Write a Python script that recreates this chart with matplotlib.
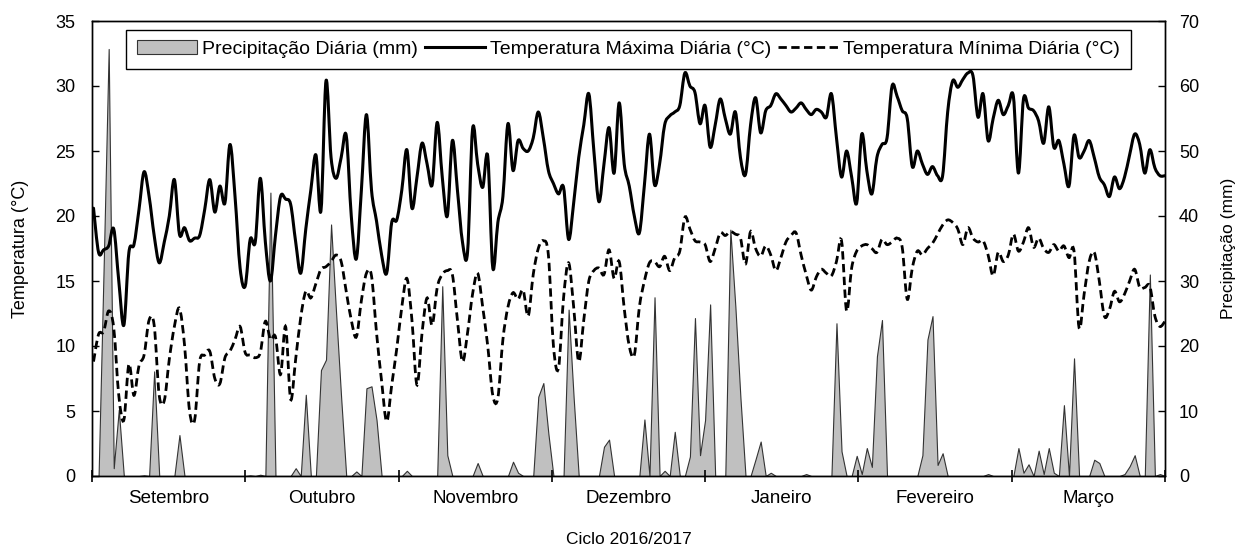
import numpy as np
import matplotlib.pyplot as plt
from matplotlib.patches import Patch, PathPatch
from matplotlib.lines import Line2D
from matplotlib.path import Path

plt.rcParams['font.family'] = ['Liberation Sans', 'DejaVu Sans']

# daily values, 1 Sep 2016 -> end of Mar 2017
months = ['Setembro', 'Outubro', 'Novembro', 'Dezembro', 'Janeiro', 'Fevereiro', 'Março']

temp_max = [
    20.6, 17.2, 17.4, 17.7, 19.0, 15.0, 11.6, 17.2, 17.8, 20.5,
    23.4, 21.5, 18.5, 16.4, 18.0, 20.0, 22.8, 18.6, 19.1, 18.1,
    18.3, 18.5, 20.5, 22.8, 20.3, 22.3, 21.0, 25.5, 21.5, 16.0,
    14.6, 18.2, 18.0, 22.9, 18.0, 15.0, 18.5, 21.5, 21.3, 20.9,
    18.0, 15.6, 19.0, 22.0, 24.7, 20.4, 30.4, 24.5, 22.9, 24.5,
    26.2, 20.0, 16.7, 22.0, 27.8, 22.0, 19.6, 17.0, 15.6, 19.5,
    19.7, 22.0, 25.1, 20.6, 23.0, 25.6, 24.0, 22.4, 27.2, 23.0,
    20.0, 25.8, 22.0, 18.0, 17.2, 26.7, 24.0, 22.2, 24.6, 16.0,
    19.5, 21.5, 27.1, 23.5, 25.8, 25.2, 25.0, 26.0, 28.0, 26.0,
    23.5, 22.5, 21.7, 22.2, 18.2, 21.0, 24.5, 27.0, 29.4, 25.0,
    21.1, 24.0, 26.8, 23.3, 28.7, 24.0, 22.3, 20.0, 18.7, 22.4,
    26.3, 22.4, 24.0, 27.0, 27.7, 28.0, 28.5, 31.0, 30.0, 29.5,
    27.1, 28.5, 25.3, 27.0, 29.0, 27.5, 26.3, 28.0, 24.5, 23.2,
    27.0, 29.1, 26.4, 28.1, 28.5, 29.4, 29.0, 28.5, 28.0, 28.3,
    28.7, 28.2, 27.8, 28.2, 28.0, 27.6, 29.4, 26.0, 23.0, 25.0,
    23.0, 21.0, 26.3, 23.5, 21.7, 24.5, 25.5, 26.0, 30.0, 29.2,
    28.1, 27.5, 23.8, 25.0, 24.0, 23.2, 23.8, 23.1, 23.1, 28.0,
    30.4, 29.9, 30.5, 31.0, 30.8, 27.6, 29.4, 25.8, 27.5, 28.9,
    27.8, 28.5, 29.2, 23.3, 29.0, 28.3, 28.1, 27.3, 25.6, 28.4,
    25.3, 25.8, 24.0, 22.3, 26.2, 24.5, 25.0, 25.8, 24.5, 23.0,
    22.4, 21.5, 23.0, 22.1, 23.0, 24.7, 26.3, 25.5, 23.3, 25.1,
    23.7, 23.1, 23.1,
]

temp_min = [
    8.8, 10.9, 11.1, 12.7, 11.4, 6.2, 4.3, 8.6, 6.2, 8.5,
    9.3, 12.0, 11.6, 6.2, 5.8, 9.0, 11.5, 12.9, 10.1, 5.0,
    4.3, 8.8, 9.3, 9.6, 7.5, 7.1, 9.1, 9.6, 10.5, 11.5,
    9.5, 9.3, 9.1, 9.5, 11.9, 10.5, 10.7, 7.8, 11.5, 5.9,
    9.0, 12.2, 14.2, 13.7, 14.8, 15.9, 16.1, 16.5, 17.0, 16.5,
    14.2, 12.0, 10.7, 13.5, 15.6, 15.4, 11.0, 7.3, 4.2, 7.0,
    9.8, 13.0, 15.2, 12.0, 7.0, 11.0, 13.7, 11.6, 14.5, 15.5,
    15.8, 15.5, 12.0, 8.8, 11.0, 14.0, 15.6, 13.0, 10.0, 6.2,
    6.0, 10.5, 13.0, 14.1, 13.6, 14.3, 12.3, 15.5, 17.5, 18.1,
    17.0, 10.0, 8.3, 13.7, 16.4, 13.0, 8.8, 12.0, 15.0, 15.8,
    16.0, 15.5, 17.4, 15.2, 16.5, 12.9, 10.0, 9.3, 13.0, 15.0,
    16.4, 16.5, 16.1, 16.9, 15.8, 16.8, 17.3, 19.9, 19.0, 18.1,
    18.0, 17.8, 16.5, 17.5, 18.7, 18.5, 18.8, 18.6, 18.3, 16.3,
    18.8, 17.5, 16.9, 17.7, 17.0, 15.8, 16.8, 18.0, 18.5, 18.7,
    17.0, 15.5, 14.3, 15.3, 15.9, 15.6, 15.4, 16.5, 18.1, 12.7,
    16.0, 17.3, 17.7, 17.8, 17.5, 17.2, 18.2, 17.8, 18.0, 18.3,
    17.6, 13.6, 16.0, 17.3, 17.0, 17.5, 17.9, 18.6, 19.3, 19.7,
    19.5, 19.0, 17.8, 19.1, 18.3, 18.0, 18.1, 17.0, 15.4, 17.2,
    16.5, 17.0, 18.6, 17.3, 18.0, 19.1, 17.6, 18.3, 17.5, 17.2,
    17.8, 17.3, 17.7, 16.8, 17.3, 11.4, 14.0, 16.5, 17.2, 15.0,
    12.3, 12.8, 14.2, 13.4, 14.0, 15.0, 15.9, 14.5, 14.5, 14.6,
    12.3, 11.5, 11.9,
]

precip = [
    0.0, 0.0, 32.0, 65.7, 1.2, 10.2, 0.0, 0.0, 0.0, 0.0,
    0.1, 0.0, 16.1, 0.0, 0.0, 0.0, 0.0, 6.3, 0.0, 0.0,
    0.0, 0.0, 0.0, 0.0, 0.0, 0.0, 0.0, 0.0, 0.0, 0.0,
    0.0, 0.1, 0.0, 0.2, 0.0, 43.6, 0.0, 0.0, 0.0, 0.0,
    1.2, 0.0, 12.5, 0.0, 0.0, 16.3, 17.9, 38.7, 25.0, 12.0,
    0.0, 0.0, 0.7, 0.0, 13.5, 13.8, 8.6, 0.0, 0.0, 0.0,
    0.0, 0.0, 0.8, 0.0, 0.0, 0.0, 0.0, 0.0, 0.0, 29.2,
    3.2, 0.0, 0.0, 0.0, 0.0, 0.0, 2.0, 0.0, 0.0, 0.0,
    0.0, 0.0, 0.0, 2.2, 0.5, 0.0, 0.0, 0.0, 12.2, 14.3,
    6.5, 0.0, 0.0, 0.0, 25.6, 12.0, 0.0, 0.0, 0.0, 0.0,
    0.0, 4.5, 5.6, 0.0, 0.0, 0.0, 0.0, 0.0, 0.0, 8.7,
    0.0, 27.5, 0.0, 0.8, 0.0, 6.8, 0.0, 0.0, 3.0, 24.3,
    3.2, 8.6, 26.4, 0.0, 0.0, 0.0, 37.9, 26.0, 12.0, 0.0,
    0.0, 2.6, 5.3, 0.0, 0.5, 0.0, 0.0, 0.0, 0.0, 0.0,
    0.0, 0.3, 0.0, 0.0, 0.0, 0.0, 0.0, 23.5, 3.8, 0.0,
    0.0, 3.1, 0.3, 4.3, 1.4, 18.4, 24.0, 0.0, 0.0, 0.0,
    0.0, 0.0, 0.0, 0.0, 3.2, 21.0, 24.6, 1.7, 3.5, 0.0,
    0.0, 0.0, 0.0, 0.0, 0.0, 0.0, 0.0, 0.3, 0.0, 0.0,
    0.0, 0.0, 0.0, 4.3, 0.5, 1.8, 0.0, 3.9, 0.3, 4.3,
    0.5, 0.0, 10.9, 0.0, 18.1, 0.0, 0.0, 0.0, 2.5, 2.0,
    0.0, 0.0, 0.0, 0.0, 0.3, 1.5, 3.2, 0.0, 0.0, 31.0,
    0.0, 0.3, 0.0,
]

MAX_STYLE = dict(color='black', linewidth=2.2)
MIN_STYLE = dict(color='black', linewidth=2.0, linestyle=(0, (3.0, 1.6)))


def smooth_path(x, y):
    # Excel-style "smoothed line": Catmull-Rom through the daily points, as Bezier curves
    pts = np.column_stack([x, y]).astype(float)
    padded = np.vstack([pts[0], pts, pts[-1]])
    verts = [pts[0]]
    codes = [Path.MOVETO]
    for i in range(len(pts) - 1):
        p0, p1, p2, p3 = padded[i], padded[i + 1], padded[i + 2], padded[i + 3]
        verts += [p1 + (p2 - p0) / 6, p2 - (p3 - p1) / 6, p2]
        codes += [Path.CURVE4] * 3
    return Path(verts, codes)


days = np.arange(len(temp_max))
x0, x1 = -0.3, days[-1]

fig = plt.figure(figsize=(12.39, 5.46), dpi=100)
ax = fig.add_axes([92 / 1239, 1 - 476 / 546, (1165 - 92) / 1239, (476 - 21) / 546])
ax2 = ax.twinx()

# precipitation (right axis), drawn underneath the temperature lines
ax2.fill_between(days, precip, 0, facecolor='#c0c0c0', edgecolor='#333333', linewidth=0.8)
ax2.set_ylim(0, 70)
ax2.set_yticks(np.arange(0, 71, 10))

ax.add_patch(PathPatch(smooth_path(days, temp_max), fill=False, capstyle='round',
                       joinstyle='round', **MAX_STYLE))
ax.add_patch(PathPatch(smooth_path(days, temp_min), fill=False, **MIN_STYLE))
ax.set_ylim(0, 35)
ax.set_yticks(np.arange(0, 36, 5))
ax.set_xlim(x0, x1)
ax.set_zorder(ax2.get_zorder() + 1)
ax.patch.set_visible(False)

# month separators evenly spaced, month names centred between them
edges = np.linspace(x0, x1, len(months) + 1)
centers = (edges[:-1] + edges[1:]) / 2
ax.set_xticks(edges)
ax.set_xticklabels([])
ax.set_xticks(centers, minor=True)
ax.set_xticklabels(months, minor=True)
ax.tick_params(axis='x', which='major', direction='inout', length=9, width=1.2)
ax.tick_params(axis='x', which='minor', length=0, labelsize=13.5, pad=10)
ax.tick_params(axis='y', direction='in', length=5, width=1.0, labelsize=13, pad=12)
ax2.tick_params(axis='y', direction='in', length=5, width=1.0, labelsize=13, pad=10)

for sp in ax.spines.values():
    sp.set_linewidth(1.0)
for sp in ax2.spines.values():
    sp.set_linewidth(1.0)

ax.set_ylabel('Temperatura (°C)', fontsize=13, labelpad=19)
ax2.set_ylabel('Precipitação (mm)', fontsize=12.5, labelpad=16)
ax.set_xlabel('Ciclo 2016/2017', fontsize=12.5, labelpad=18)

handles = [
    Patch(facecolor='#c0c0c0', edgecolor='#333333', linewidth=0.8),
    Line2D([], [], **MAX_STYLE),
    Line2D([], [], **MIN_STYLE),
]
labels = ['Precipitação Diária (mm)', 'Temperatura Máxima Diária (°C)', 'Temperatura Mínima Diária (°C)']
leg = ax.legend(handles, labels, loc='upper center', ncol=3, fontsize=14, frameon=True,
                fancybox=False, edgecolor='black', framealpha=1, handlelength=3.1,
                handletextpad=0.25, columnspacing=0.35, borderaxespad=0.45, borderpad=0.55)
leg.get_frame().set_linewidth(1.0)

plt.savefig('out.png', dpi=100)
